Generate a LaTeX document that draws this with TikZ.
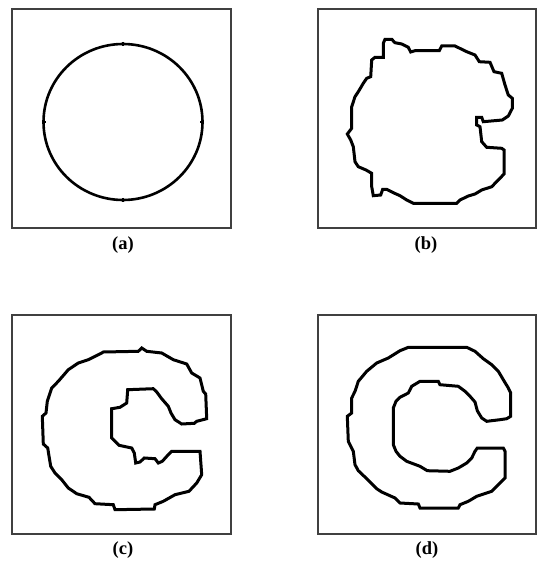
\documentclass[tikz,border=0pt]{standalone}
\usepackage{fontspec}
\setmainfont{Liberation Serif}
\begin{document}
\begin{tikzpicture}[x=1pt,y=-1pt,
  panel/.style={draw=black!75,line width=1.4pt,fill=white},
  contour/.style={draw=black,line width=3pt,line join=miter,line cap=rect},
  tick/.style={draw=black,line width=1.4pt},
  caption/.style={font=\fontsize{18.5}{20}\selectfont\bfseries,inner sep=0pt}]
\useasboundingbox[fill=white] (0,0) rectangle (537,561);
% panels
\draw[panel] (12,9) rectangle (231,228);
\draw[panel] (318,9) rectangle (536,228);
\draw[panel] (12,315) rectangle (231,534);
\draw[panel] (318,315) rectangle (536,534);
% (a) circle
\draw[contour,line width=2.6pt] (123,122) ellipse [x radius=79.5,y radius=78];
\draw[tick] (123,42) -- (123,46);
\draw[tick] (123,198) -- (123,202);
\draw[tick] (42.5,122) -- (46,122);
\draw[tick] (200,122) -- (203.5,122);
% (b)
\draw[contour] (385,39.3) -- (391.7,39.3) -- (395,42.7) -- (401.7,44) -- (408.3,47.3) -- (410.7,52) -- (415,50.7) -- (439.3,50.7) -- (441.7,46) -- (455,46) -- (466.7,51.7) -- (475,55) -- (479.3,61.7) -- (490,62.3) -- (494,71.7) -- (501.7,73.3) -- (505,85) -- (508.3,95) -- (512.3,98.3) -- (512.3,108.3) -- (508.3,116) -- (502.3,120) -- (483.3,121.7) -- (481.7,117.3) -- (476.7,117.3) -- (476.7,125) -- (480,126.7) -- (481.7,141.7) -- (486.7,147.3) -- (501.7,148.3) -- (504,150) -- (504,174) -- (498.3,180) -- (491.7,186.7) -- (481.7,190) -- (475,194) -- (468.3,196) -- (460,200) -- (456.7,203.3) -- (413.3,203.3) -- (406.7,200) -- (400,195.7) -- (393.3,192.7) -- (386.7,189.3) -- (382.7,189.3) -- (380.7,195) -- (373.3,195.7) -- (371.7,186.7) -- (371.7,173.3) -- (366,170) -- (358.3,166.7) -- (355,161.7) -- (353.3,146.7) -- (350.7,140) -- (347.3,134) -- (351.7,128.3) -- (351.7,106.7) -- (355,96.7) -- (358.3,91.7) -- (363.3,83.3) -- (366.7,78.3) -- (370.7,76.7) -- (371.7,60) -- (375,57.3) -- (383.3,57.3) -- (383.3,43.3) -- cycle;
% (c)
\draw[contour] (103.3,352) -- (138.3,351.3) -- (141.7,348) -- (146.7,351.3) -- (161.7,353) -- (173.3,359.7) -- (186.7,364) -- (191.7,373) -- (200,378) -- (203.3,391.3) -- (205.7,394) -- (206.7,418.7) -- (196.7,421.3) -- (194.3,423.3) -- (181.7,424) -- (175,419.7) -- (171,413) -- (168.3,406.3) -- (161.7,398.7) -- (156.7,392) -- (153.3,388.7) -- (127.7,389.7) -- (126.7,403) -- (120,407.3) -- (111.7,408.7) -- (111.7,438) -- (115,441.3) -- (119,445.3) -- (131.7,448) -- (134.3,453) -- (135.7,463) -- (140,462) -- (144.3,458) -- (155,458.7) -- (158.3,463) -- (162.3,461.3) -- (167.7,455.3) -- (171.7,451.3) -- (200,451.3) -- (201.7,474.7) -- (196.7,483) -- (189,491.3) -- (175,494.7) -- (163.3,501.3) -- (155,504.7) -- (154.3,509) -- (115,509.7) -- (113.3,504.7) -- (95,503.7) -- (89,497.3) -- (76.7,493.7) -- (68.3,488) -- (61.7,479.7) -- (55,473) -- (50.7,466.3) -- (47.7,448) -- (43.3,444) -- (42.3,416.3) -- (46,413) -- (47.3,401.3) -- (51.7,388) -- (58.3,381.3) -- (68.3,369.7) -- (78.3,363) -- (88.3,359.7) -- (101.7,353) -- cycle;
% (d)
\draw[contour] (408.3,347.3) -- (466.7,347.3) -- (475,351.3) -- (483.3,358.7) -- (491.7,364.7) -- (498.3,371.3) -- (503.3,379.7) -- (508.3,388) -- (510.7,393) -- (510.7,416.3) -- (506.7,418.7) -- (500,419.7) -- (486.7,421.3) -- (481.7,418) -- (477.3,410.7) -- (475,402) -- (470,396.3) -- (465,391.3) -- (458.3,386.3) -- (440,384.7) -- (438.3,381.3) -- (420,381.3) -- (411.7,386.3) -- (408.3,393) -- (400,397.3) -- (396,401.3) -- (393.3,408) -- (393.3,444.7) -- (396,451.3) -- (400,456.3) -- (406.7,461.3) -- (420,466.3) -- (427.3,470.7) -- (450,471.3) -- (458.3,468) -- (466.7,463) -- (471.7,458) -- (475,451.3) -- (477.3,448) -- (503.3,448) -- (505,451.3) -- (505,478) -- (496.7,486.3) -- (491.7,491.3) -- (476.7,496.3) -- (468.3,501.3) -- (460,504.7) -- (458.3,508) -- (420,508) -- (418.3,504) -- (400,503) -- (395,498) -- (381.7,492) -- (376.7,488.7) -- (366.7,478.7) -- (358.3,470.7) -- (355,464.7) -- (353.3,451.3) -- (348.3,441.3) -- (347.3,416.3) -- (351.7,413) -- (351.7,398) -- (355,391.3) -- (358.3,381.3) -- (366.7,371.3) -- (376.7,363) -- (388.3,358) -- (400,350.7) -- (406.7,348) -- cycle;
% captions
\node[caption] (capa) at (123,245) {(a)};
\node[caption] (capb) at (426,245) {(b)};
\node[caption] (capc) at (123,550) {(c)};
\node[caption] (capd) at (427,550) {(d)};
\end{tikzpicture}
\end{document}
